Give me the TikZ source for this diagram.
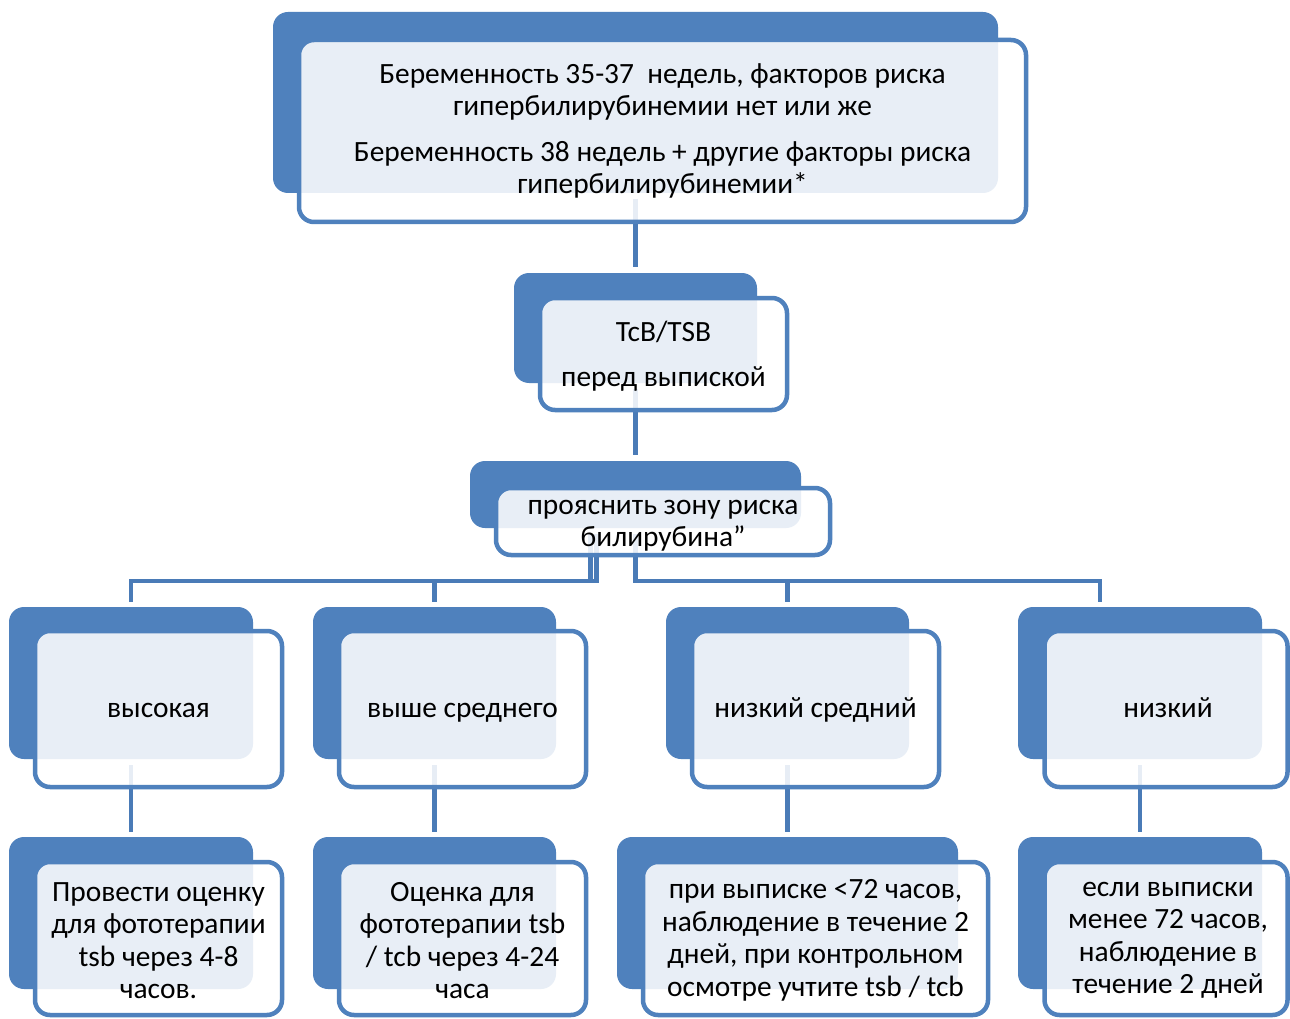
\documentclass[tikz,border=0pt]{standalone}
\usepackage{fontspec}
\setmainfont{Carlito}
\usetikzlibrary{calc}
\pgfdeclarelayer{bg}
\pgfsetlayers{bg,main}
\definecolor{accent}{HTML}{4F81BD}
\definecolor{linkblue}{HTML}{4A7BB7}

\begin{document}
\begin{tikzpicture}[x=1pt,y=-1pt,
  backbox/.style={rectangle, rounded corners=15pt, fill=accent, draw=none, inner sep=0pt},
  frontbox/.style={rectangle, rounded corners=15pt, draw=accent, line width=4.5pt,
    fill=white, fill opacity=0.87, inner sep=0pt},
  txt/.style={inner sep=0pt, align=center, font=\fontsize{29.4}{32.5}\selectfont, text=black},
  oneline/.style={txt, text height=23pt, text depth=7pt},
  conn/.style={draw=linkblue, line width=4.5pt}
]
\useasboundingbox (0,0) rectangle (1290,1019);

% top: gestational age and risk factors
\node[backbox, minimum width=725pt, minimum height=181pt] (b1) at (635.5,102.5) {};
\node[frontbox, minimum width=727pt, minimum height=182pt] (f1) at (662.5,131) {};
\node[txt] (t1) at (f1.center)
  {Беременность 35-37~ недель, факторов риска\\гипербилирубинемии нет или же\\[13pt]%
   Беременность 38 недель + другие факторы риска\\гипербилирубинемии*};

% measurement before discharge
\node[backbox, minimum width=243pt, minimum height=110pt] (b2) at (635.5,328) {};
\node[frontbox, minimum width=247pt, minimum height=112pt] (f2) at (663.5,354) {};
\node[txt] (t2) at ([yshift=-2pt]f2.center) {TcB/TSB\\[12pt]перед выпиской};

% risk zone
\node[backbox, minimum width=331pt, minimum height=67pt] (b3) at (635.5,494.5) {};
\node[frontbox, minimum width=334pt, minimum height=67pt] (f3) at (663,521.5) {};
\node[txt] (t3) at ([yshift=-4pt]f3.center) {прояснить зону риска\\билирубина”};

% risk zones
\node[backbox, minimum width=244pt, minimum height=152pt] (bA) at (131,683) {};
\node[frontbox, minimum width=247pt, minimum height=156pt] (fA) at (158.5,709) {};
\node[oneline] (tA1) at (fA.center) {высокая};
\node[backbox, minimum width=243pt, minimum height=152pt] (bB) at (434.5,683) {};
\node[frontbox, minimum width=247pt, minimum height=156pt] (fB) at (462.5,709) {};
\node[oneline] (tB1) at (fB.center) {выше среднего};
\node[backbox, minimum width=243pt, minimum height=152pt] (bC) at (787.5,683) {};
\node[frontbox, minimum width=247pt, minimum height=156pt] (fC) at (815.5,709) {};
\node[oneline] (tC1) at (fC.center) {низкий средний};
\node[backbox, minimum width=244pt, minimum height=152pt] (bD) at (1140,683) {};
\node[frontbox, minimum width=243pt, minimum height=156pt] (fD) at (1166,709) {};
\node[oneline] (tD1) at ([xshift=2pt]fD.center) {низкий};

% actions
\node[backbox, minimum width=244pt, minimum height=152pt] (gA) at (131,913) {};
\node[frontbox, minimum width=247pt, minimum height=153pt] (hA) at (158.5,938.5) {};
\node[txt] (tA2) at ([yshift=-2pt]hA.center)
  {Провести оценку\\для фототерапии\\tsb через 4-8\\часов.};
\node[backbox, minimum width=243pt, minimum height=152pt] (gB) at (434.5,913) {};
\node[frontbox, minimum width=247pt, minimum height=153pt] (hB) at (462.5,938.5) {};
\node[txt] (tB2) at ([yshift=-2pt]hB.center)
  {Оценка для\\фототерапии tsb\\/ tcb через 4-24\\часа};
\node[backbox, minimum width=341pt, minimum height=152pt] (gC) at (787.5,913) {};
\node[frontbox, minimum width=345pt, minimum height=153pt] (hC) at (815.5,938.5) {};
\node[txt] (tC2) at ([yshift=-2pt]hC.center)
  {при выписке <72 часов,\\наблюдение в течение 2\\дней, при контрольном\\осмотре учтите tsb / tcb};
\node[backbox, minimum width=244pt, minimum height=152pt] (gD) at (1140,913) {};
\node[frontbox, minimum width=243pt, minimum height=153pt] (hD) at (1166,938.5) {};
\node[txt] (tD2) at ([xshift=2pt,yshift=-2pt]hD.center)
  {если выписки\\менее 72 часов,\\наблюдение в\\течение 2 дней};

\begin{pgfonlayer}{bg}
  \fill[white] (0,0) rectangle (1290,1019);
  % vertical links
  \draw[conn] ([yshift=-6pt]b1.south) -- ([yshift=6pt]b2.north);
  \draw[conn] ([yshift=-6pt]b2.south) -- ([yshift=6pt]b3.north);
  % elbow links to the risk zones
  \coordinate (hy) at (0,581);
  \coordinate (s1) at ([xshift=-45pt,yshift=-6pt]b3.south);
  \coordinate (s2) at ([xshift=-39pt,yshift=-6pt]b3.south);
  \coordinate (s3) at ([yshift=-6pt]b3.south);
  \coordinate (tA) at ([yshift=5pt]bA.north);
  \coordinate (tB) at ([yshift=5pt]bB.north);
  \coordinate (tC) at ([yshift=5pt]bC.north);
  \coordinate (tD) at ([xshift=-40pt,yshift=5pt]bD.north);
  \draw[conn] (s1) -- (s1 |- hy) -| (tA);
  \draw[conn] (s2) -- (s2 |- hy) -| (tB);
  \draw[conn] (s3) -- (s3 |- hy) -| (tC);
  \draw[conn] (s3) -- (s3 |- hy) -| (tD);
  % zones to actions
  \draw[conn] ([yshift=-6pt]bA.south) -- ([yshift=5pt]gA.north);
  \draw[conn] ([yshift=-6pt]bB.south) -- ([yshift=5pt]gB.north);
  \draw[conn] ([yshift=-6pt]bC.south) -- ([yshift=5pt]gC.north);
  \draw[conn] ([yshift=-6pt]bD.south) -- ([yshift=5pt]gD.north);
\end{pgfonlayer}
\end{tikzpicture}
\end{document}
